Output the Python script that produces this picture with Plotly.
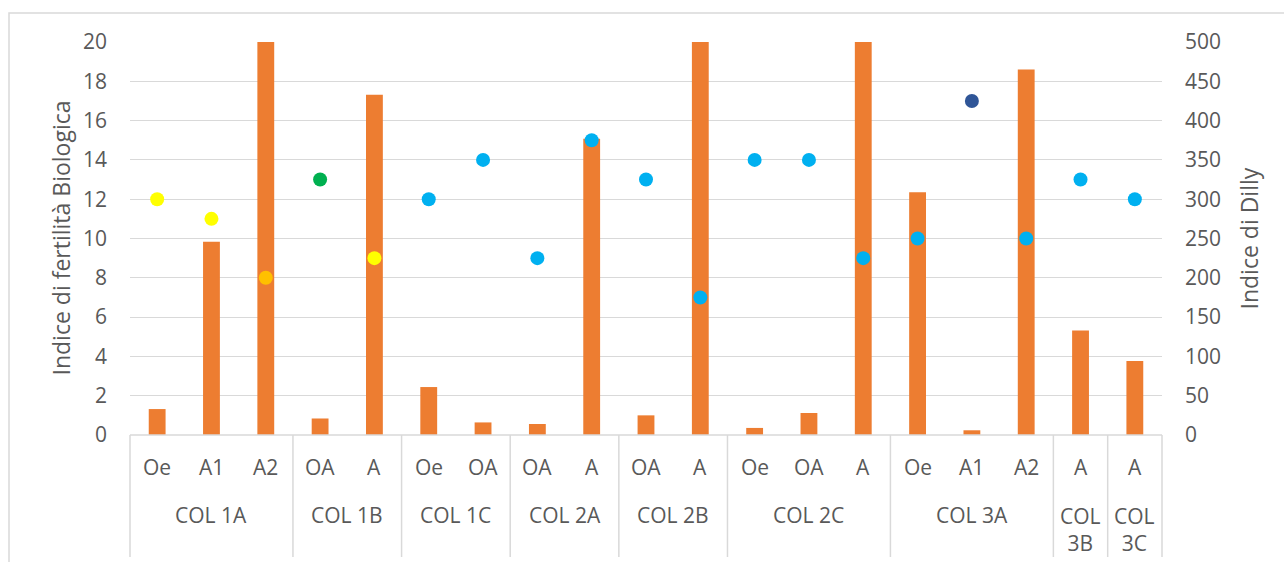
import plotly.graph_objects as go

# Soil profile data: site groups, horizons, Dilly index (bars) and IBF score (dots)
groups = ["COL 1A", "COL 1A", "COL 1A", "COL 1B", "COL 1B", "COL 1C", "COL 1C",
          "COL 2A", "COL 2A", "COL 2B", "COL 2B", "COL 2C", "COL 2C", "COL 2C",
          "COL 3A", "COL 3A", "COL 3A", "COL 3B", "COL 3C"]
horizons = ["Oe", "A1", "A2", "OA", "A", "Oe", "OA", "OA", "A", "OA", "A",
            "Oe", "OA", "A", "Oe", "A1", "A2", "A", "A"]
dilly = [33, 246, 620, 21, 433, 61, 16, 14, 377, 25, 620, 9, 28, 620,
         309, 6, 465, 133, 94]
ibf = [12, 11, 8, 13, 9, 12, 14, 9, 15, 13, 7, 14, 14, 9, 10, 17, 10, 13, 12]
dot_colors = ["#FFFF00", "#FFFF00", "#FFC000", "#00B050", "#FFFF00",
              "#00B0F0", "#00B0F0", "#00B0F0", "#00B0F0", "#00B0F0", "#00B0F0",
              "#00B0F0", "#00B0F0", "#00B0F0", "#00B0F0", "#2F5597", "#00B0F0",
              "#00B0F0", "#00B0F0"]
group_names = ["COL 1A", "COL 1B", "COL 1C", "COL 2A", "COL 2B", "COL 2C",
               "COL 3A", "COL 3B", "COL 3C"]
group_labels = ["COL 1A", "COL 1B", "COL 1C", "COL 2A", "COL 2B", "COL 2C",
                "COL 3A", "COL<br>3B", "COL<br>3C"]
left_ticks = [0, 2, 4, 6, 8, 10, 12, 14, 16, 18, 20]
right_ticks = [0, 50, 100, 150, 200, 250, 300, 350, 400, 450, 500]

FONT = "Open Sans"
TXT = "#595959"
GRID = "#D9D9D9"
FS = 21
TFS = 23

keys = [f"{g}|{h}" for g, h in zip(groups, horizons)]
n = len(keys)

fig = go.Figure()
# bars on the primary axis (drawn on the right), dots on the overlaid left axis so they sit on top
fig.add_trace(go.Bar(x=keys, y=dilly, yaxis="y", marker=dict(color="#ED7D31", line=dict(width=0)),
                     width=0.31, name="Indice di Dilly"))
fig.add_trace(go.Scatter(x=keys, y=ibf, yaxis="y2", mode="markers",
                         marker=dict(color=dot_colors, size=14, line=dict(width=0)),
                         name="Indice di fertilità Biologica"))

fig.update_layout(
    width=1284, height=562,
    margin=dict(l=130, r=122, t=42, b=127),
    paper_bgcolor="white", plot_bgcolor="white",
    showlegend=False,
    font=dict(family=FONT, size=FS, color=TXT),
    bargap=0.69,
    xaxis=dict(type="category", categoryorder="array", categoryarray=keys,
               range=[-0.5, n - 0.5], showticklabels=False, showgrid=False,
               zeroline=False, ticks="", showline=False),
    yaxis=dict(range=[0, 500], tickvals=right_ticks, side="right",
               showgrid=True, gridcolor=GRID, gridwidth=1,
               zeroline=False, showline=False, ticks="", ticklabelstandoff=22,
               tickfont=dict(family=FONT, size=FS, color=TXT)),
    yaxis2=dict(range=[0, 20], tickvals=left_ticks, overlaying="y", side="left",
                showgrid=False, zeroline=False, showline=False, ticks="",
                ticklabelstandoff=22, tickfont=dict(family=FONT, size=FS, color=TXT)),
)

shapes = []
# outer chart frame
shapes.append(dict(type="rect", xref="paper", yref="paper",
                   x0=(9 - 130) / 1032, x1=(1300 - 130) / 1032,
                   y0=(435 - 600) / 393, y1=(435 - 13) / 393,
                   line=dict(color=GRID, width=1.5), fillcolor="rgba(0,0,0,0)", layer="below"))
# category axis baseline
shapes.append(dict(type="line", xref="paper", yref="paper", x0=0, x1=1, y0=0, y1=0,
                   line=dict(color=GRID, width=1.5)))
# group dividers
bounds = [0]
for i in range(1, n):
    if groups[i] != groups[i - 1]:
        bounds.append(i)
bounds.append(n)
for b in bounds:
    shapes.append(dict(type="line", xref="paper", yref="paper",
                       x0=b / n, x1=b / n, y0=0, y1=-(557 - 435) / 393,
                       line=dict(color=GRID, width=1.5)))
fig.update_layout(shapes=shapes)

ann = []
for k, h in zip(keys, horizons):
    ann.append(dict(x=k, xref="x", y=0, yref="paper", yshift=-32, text=h,
                    showarrow=False, yanchor="middle",
                    font=dict(family=FONT, size=FS, color=TXT)))
for g, lab in zip(group_names, group_labels):
    idx = [i for i, gg in enumerate(groups) if gg == g]
    center = (idx[0] + idx[-1]) / 2
    two_line = "<br>" in lab
    ann.append(dict(x=center, xref="x", y=0, yref="paper",
                    yshift=-(94 if two_line else 80), text=lab,
                    showarrow=False, yanchor="middle",
                    font=dict(family=FONT, size=FS, color=TXT)))
ann.append(dict(x=(60 - 130) / 1032, xref="paper", y=0.5, yref="paper",
                text="Indice di fertilità Biologica", textangle=-90, showarrow=False,
                xanchor="center", yanchor="middle", font=dict(family=FONT, size=TFS, color=TXT)))
ann.append(dict(x=(1248 - 130) / 1032, xref="paper", y=0.5, yref="paper",
                text="Indice di Dilly", textangle=-90, showarrow=False,
                xanchor="center", yanchor="middle", font=dict(family=FONT, size=TFS, color=TXT)))
fig.update_layout(annotations=ann)

fig.write_html("out.html")
